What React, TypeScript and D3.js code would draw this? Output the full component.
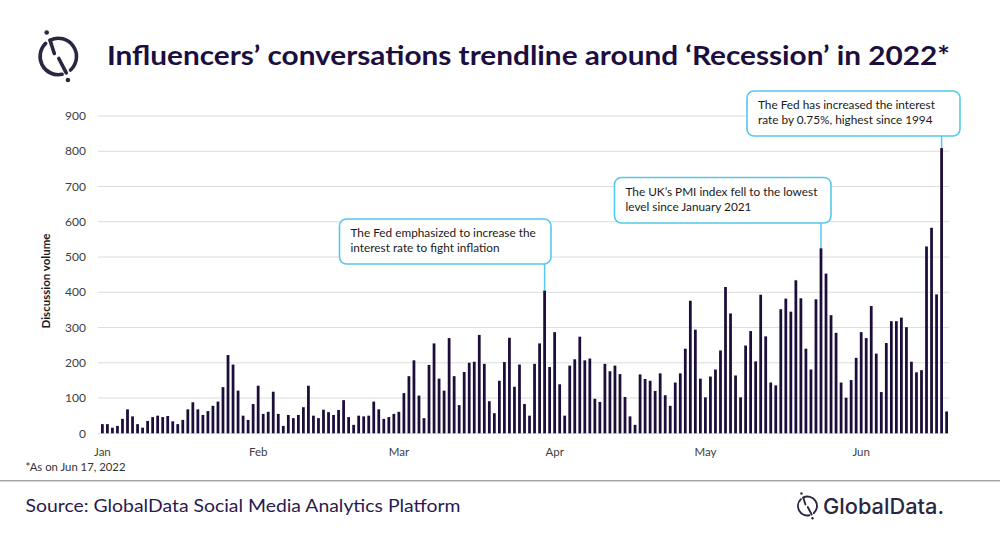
import React, { useEffect, useRef } from "react";
import * as d3 from "d3";

// daily discussion volume, Jan 1 2022 .. Jun 18 2022
const startDate = new Date(2022, 0, 1);
const endDate = new Date(2022, 5, 19); // exclusive

const volumes: number[] = [
  // Jan
  26, 26, 16, 21, 41, 68, 48, 26, 16, 35, 46, 50, 46, 49, 34, 26, 38, 68, 88, 68,
  52, 63, 78, 90, 131, 222, 195, 121, 50, 38, 83,
  // Feb
  135, 55, 61, 118, 55, 21, 52, 43, 52, 74, 135, 50, 43, 67, 60, 52, 66, 94, 46, 24,
  50, 48, 50, 90, 68, 41, 46, 55,
  // Mar
  61, 114, 162, 207, 107, 43, 194, 255, 155, 121, 270, 162, 80, 174, 200, 203, 279, 197, 91, 57,
  149, 202, 271, 132, 195, 83, 50, 197, 255, 405, 188,
  // Apr
  287, 139, 50, 192, 210, 274, 207, 212, 98, 89, 197, 176, 192, 168, 103, 48, 24, 167, 154, 149,
  120, 170, 108, 78, 144, 170, 240, 376, 294, 155,
  // May
  102, 161, 181, 235, 415, 340, 164, 102, 249, 290, 204, 393, 275, 144, 136, 352, 382, 345, 434, 383,
  240, 181, 380, 525, 453, 335, 285, 144, 101, 151, 214,
  // Jun
  287, 270, 361, 226, 117, 256, 318, 318, 328, 301, 203, 173, 179, 530, 583, 394, 809, 62,
];

const monthLabels = ["Jan", "Feb", "Mar", "Apr", "May", "Jun"];
const yTicks = [0, 100, 200, 300, 400, 500, 600, 700, 800, 900];

const noteDays = ["2022-03-30", "2022-05-24", "2022-06-17"];
const noteLines = [
  ["The Fed emphasized to increase the", "interest rate to fight inflation"],
  ["The UK\u2019s PMI index fell to the lowest", "level since January 2021"],
  ["The Fed has increased the interest", "rate by 0.75%,  highest since 1994"],
];

// callout box placement (layout only)
const noteBoxes = [
  { x: 339.5, y: 219, w: 211.5, h: 45 },
  { x: 614.5, y: 177.5, w: 216.5, h: 45.5 },
  { x: 747, y: 91, w: 213, h: 45 },
];

const titleText = "Influencers\u2019 conversations trendline around \u2018Recession\u2019 in 2022*";
const font = "Lato, 'Open Sans', sans-serif";

// GlobalData style mark: broken circle with an offset slash and two dots
function drawLogo(g: d3.Selection<SVGGElement, unknown, null, undefined>, cx: number, cy: number, s: number, color: string) {
  const r = 18.2 * s;
  const rad = (deg: number) => (deg * Math.PI) / 180;
  const pt = (deg: number, rr: number) => [cx + rr * Math.cos(rad(deg)), cy + rr * Math.sin(rad(deg))];
  const arc = (a0: number, a1: number) => {
    const [x0, y0] = pt(a0, r);
    const [x1, y1] = pt(a1, r);
    const large = a1 - a0 > 180 ? 1 : 0;
    return `M${x0},${y0} A${r},${r} 0 ${large} 1 ${x1},${y1}`;
  };
  const lg = g.append("g")
    .attr("fill", "none")
    .attr("stroke", color)
    .attr("stroke-width", 3.6 * s)
    .attr("stroke-linecap", "round");
  lg.append("path").attr("d", arc(78, 226));
  lg.append("path").attr("d", arc(-117, 48));
  const [s1x, s1y] = pt(-117, r);
  lg.append("line").attr("x1", s1x).attr("y1", s1y).attr("x2", cx - 4 * s).attr("y2", cy - 3 * s);
  const [s2x, s2y] = pt(64, r);
  lg.append("line").attr("x1", cx + 0.5 * s).attr("y1", cy + 2 * s).attr("x2", s2x).attr("y2", s2y);
  g.append("circle").attr("cx", cx - 11.6 * s).attr("cy", cy - 24 * s).attr("r", 2.3 * s).attr("fill", color);
  g.append("circle").attr("cx", cx + 9.6 * s).attr("cy", cy + 23.5 * s).attr("r", 2.3 * s).attr("fill", color);
}

const App: React.FC = () => {
  const svgRef = useRef<SVGSVGElement>(null);

  useEffect(() => {
    if (!svgRef.current) return;
    const svg = d3.select(svgRef.current);
    svg.selectAll("*").remove();

    const width = 1000;
    const height = 535;
    const plot = { left: 100, right: 949, top: 116, bottom: 433.3 };

    svg.append("rect").attr("width", width).attr("height", height).attr("fill", "#ffffff");

    const fmt = d3.timeFormat("%Y-%m-%d");
    const days = d3.timeDay.range(startDate, endDate).map(fmt);
    const months = d3.timeMonth.range(startDate, endDate).map(fmt);

    const x = d3
      .scaleBand()
      .domain(days)
      .range([plot.left, plot.right])
      .paddingInner(0.45)
      .paddingOuter(0.2);

    const y = d3.scaleLinear().domain([0, 900]).range([plot.bottom, plot.top]);
    const xc = (d: string) => (x(d) ?? 0) + x.bandwidth() / 2;

    // title + logo
    const logo = svg.append("g");
    drawLogo(logo, 58.3, 56.5, 1, "#2b2641");

    svg.append("text")
      .attr("x", 107)
      .attr("y", 65)
      .attr("font-family", font)
      .attr("font-weight", 700)
      .attr("font-size", 26.5)
      .attr("fill", "#1c0f3f")
      .attr("textLength", 843)
      .attr("lengthAdjust", "spacingAndGlyphs")
      .text(titleText);

    // gridlines
    svg.append("g")
      .selectAll("line")
      .data(yTicks)
      .enter()
      .append("line")
      .attr("x1", 98)
      .attr("x2", plot.right)
      .attr("y1", (d) => y(d))
      .attr("y2", (d) => y(d))
      .attr("stroke", "#dcdcdc")
      .attr("stroke-width", 1);

    // y tick labels
    svg.append("g")
      .selectAll("text")
      .data(yTicks)
      .enter()
      .append("text")
      .attr("x", 86)
      .attr("y", (d) => y(d))
      .attr("dy", "0.35em")
      .attr("text-anchor", "end")
      .attr("font-family", font)
      .attr("font-size", 12)
      .attr("fill", "#404040")
      .text((d) => d);

    svg.append("text")
      .attr("transform", `translate(50, 281) rotate(-90)`)
      .attr("text-anchor", "middle")
      .attr("font-family", font)
      .attr("font-weight", 700)
      .attr("font-size", 11.5)
      .attr("fill", "#1a1a1a")
      .text("Discussion volume");

    // bars
    svg.append("g")
      .selectAll("rect")
      .data(volumes)
      .enter()
      .append("rect")
      .attr("x", (_d, i) => x(days[i]) ?? 0)
      .attr("y", (d) => y(d))
      .attr("width", x.bandwidth())
      .attr("height", (d) => y(0) - y(d))
      .attr("fill", "#1d0d3b");

    // month labels
    svg.append("g")
      .selectAll("text")
      .data(months)
      .enter()
      .append("text")
      .attr("x", (d) => xc(d))
      .attr("y", 456)
      .attr("text-anchor", "middle")
      .attr("font-family", font)
      .attr("font-size", 11.5)
      .attr("fill", "#404040")
      .text((_d, i) => monthLabels[i]);

    // callouts
    noteDays.forEach((day, i) => {
      const box = noteBoxes[i];
      const v = volumes[days.indexOf(day)];
      const g = svg.append("g");
      g.append("line")
        .attr("x1", xc(day))
        .attr("x2", xc(day))
        .attr("y1", box.y + box.h)
        .attr("y2", y(v))
        .attr("stroke", "#55c8eb")
        .attr("stroke-width", 1.5);
      g.append("rect")
        .attr("x", box.x)
        .attr("y", box.y)
        .attr("width", box.w)
        .attr("height", box.h)
        .attr("rx", 7)
        .attr("fill", "#ffffff")
        .attr("stroke", "#55c8eb")
        .attr("stroke-width", 1.6);
      noteLines[i].forEach((line, j) => {
        g.append("text")
          .attr("x", box.x + 11)
          .attr("y", box.y + 18 + j * 15)
          .attr("font-family", font)
          .attr("font-size", 11.8)
          .attr("fill", "#1a1a1a")
          .text(line);
      });
    });

    // footnote + footer
    svg.append("text")
      .attr("x", 25.5)
      .attr("y", 470.5)
      .attr("font-family", font)
      .attr("font-size", 10.5)
      .attr("fill", "#333333")
      .attr("textLength", 100)
      .attr("lengthAdjust", "spacingAndGlyphs")
      .text("*As on Jun 17, 2022");

    svg.append("line")
      .attr("x1", 0)
      .attr("x2", width)
      .attr("y1", 480.7)
      .attr("y2", 480.7)
      .attr("stroke", "#a6a6a6")
      .attr("stroke-width", 1.5);

    svg.append("text")
      .attr("x", 25.5)
      .attr("y", 512)
      .attr("font-family", font)
      .attr("font-size", 17.5)
      .attr("fill", "#2a1a4f")
      .attr("textLength", 435)
      .attr("lengthAdjust", "spacingAndGlyphs")
      .text("Source: GlobalData Social Media Analytics Platform");

    const footLogo = svg.append("g");
    drawLogo(footLogo, 807.5, 506, 0.52, "#2b2641");
    svg.append("text")
      .attr("x", 823)
      .attr("y", 514)
      .attr("font-family", "Inter, Lato, sans-serif")
      .attr("font-weight", 500)
      .attr("font-size", 21)
      .attr("fill", "#2b2641")
      .attr("textLength", 121)
      .attr("lengthAdjust", "spacingAndGlyphs")
      .text("GlobalData.");
  }, []);

  return (
    <svg
      ref={svgRef}
      width={1000}
      height={535}
      viewBox="0 0 1000 535"
      style={{ position: "absolute", left: 0, top: 0, display: "block" }}
    ></svg>
  );
};

export default App;
